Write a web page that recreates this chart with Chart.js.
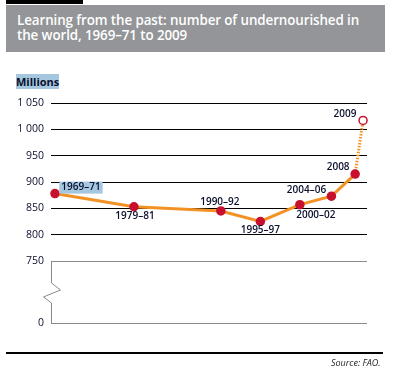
<!DOCTYPE html>
<html><head><meta charset="utf-8">
<script src="https://cdn.jsdelivr.net/npm/chart.js@4/dist/chart.umd.min.js"></script>
<style>
body{margin:0;background:#fff;}
#wrap{position:relative;width:393px;height:380px;overflow:hidden;font-family:'Open Sans',sans-serif;}
#bar{position:absolute;left:6px;top:0;width:77px;height:4px;background:#000;}
#title{position:absolute;left:6px;top:5px;width:379px;height:47px;background:#939598;color:#fff;font-size:13.4px;font-weight:600;line-height:15px;box-sizing:border-box;padding:8px 0 0 11px;white-space:nowrap;letter-spacing:-0.1px;}
#mill{position:absolute;left:16px;top:74px;height:15px;width:43px;background:#a4c6df;font-weight:bold;font-size:11px;line-height:15px;color:#0a0f2c;text-align:center;}
#rule{position:absolute;left:6px;top:352px;width:377px;height:2px;background:#000;}
#src{position:absolute;left:331px;top:356px;font-size:9px;font-style:italic;color:#222;}
canvas{position:absolute;left:0;top:0;}
</style></head>
<body><div id="wrap">
<div id="bar"></div>
<div id="title">Learning from the past: number of undernourished in<br>the world, 1969–71 to 2009</div>
<div id="mill">Millions</div>
<canvas id="c" width="393" height="380"></canvas>
<div id="rule"></div>
<div id="src">Source: FAO.</div>
</div>
<script>
const categories = ['1969–71','1979–81','1990–92','1995–97','2000–02','2004–06','2008','2009'];
const periodMidYears = [1970,1980,1991,1996,2001,2005,2008,2009];
const undernourished = [878,853,845,825,857,873,915,1017];
const yTicks = [0,750,800,850,900,950,1000,1050];

const BREAK = 750, LOW_FRAC = 62/220;
class BrokenScale extends Chart.LinearScale {
  static id = 'broken';
  getPixelForValue(v) {
    if (v === null || v === undefined) return NaN;
    const t = v >= BREAK ? LOW_FRAC + (v - BREAK) / (this.max - BREAK) * (1 - LOW_FRAC) : v / BREAK * LOW_FRAC;
    return this.getPixelForDecimal(t);
  }
}
Chart.register(BrokenScale);

const labelOffsets = [[26,-6],[1,9],[-1,-9],[0,9],[16,11],[-25,-6],[-17,-7],[-18,-6]];
const lastIdx = undernourished.length - 1;

const decor = {
  id: 'decor',
  beforeDatasetsDraw(chart) {
    const ctx = chart.ctx, y = chart.scales.y, x0 = Math.round(chart.chartArea.left) + 0.5;
    const top = y.getPixelForValue(750), bot = y.getPixelForValue(0), h = bot - top;
    ctx.save();
    ctx.strokeStyle = '#8a8a8a'; ctx.lineWidth = 1;
    ctx.beginPath();
    ctx.moveTo(x0, top);
    ctx.lineTo(x0, top + h * 0.355);
    ctx.lineTo(x0 + 9, top + h * 0.468);
    ctx.lineTo(x0 - 8, top + h * 0.58);
    ctx.lineTo(x0, top + h * 0.677);
    ctx.lineTo(x0, bot);
    ctx.stroke();
    ctx.restore();
  },
  afterDatasetsDraw(chart) {
    const ctx = chart.ctx, meta = chart.getDatasetMeta(0);
    ctx.save();
    ctx.font = '600 10px "Open Sans"';
    ctx.textAlign = 'center'; ctx.textBaseline = 'middle';
    meta.data.forEach((pt, i) => {
      const tx = pt.x + labelOffsets[i][0], ty = pt.y + labelOffsets[i][1];
      if (i === 0) {
        const w = ctx.measureText(categories[i]).width;
        ctx.fillStyle = '#a4c6df';
        ctx.fillRect(tx - w / 2 - 2, ty - 6, w + 4, 12);
      }
      ctx.fillStyle = '#0a0f2c';
      ctx.fillText(categories[i], tx, ty);
    });
    ctx.restore();
  }
};

new Chart(document.getElementById('c'), {
  type: 'line',
  data: {
    datasets: [{
      data: periodMidYears.map((x, i) => ({x, y: undernourished[i]})),
      borderColor: '#f39224',
      borderWidth: 3,
      pointRadius: 4,
      pointBorderWidth: 1.5,
      pointBackgroundColor: undernourished.map((v, i) => i === lastIdx ? '#ffffff' : '#c8102e'),
      pointBorderColor: '#c8102e',
      clip: false,
      segment: { borderDash: ctx => ctx.p1DataIndex === lastIdx ? [1.5, 1.5] : undefined }
    }]
  },
  options: {
    responsive: false, animation: false, devicePixelRatio: 1,
    layout: { padding: { left: 0, right: 26, top: 103, bottom: 57 } },
    plugins: { legend: { display: false }, tooltip: { enabled: false } },
    scales: {
      x: { type: 'linear', min: 1969.5, max: 2009.5, display: false },
      y: {
        type: 'broken', min: 0, max: 1050,
        afterBuildTicks: s => { s.ticks = yTicks.map(v => ({ value: v })); },
        afterFit: s => { s.width = 51; },
        border: { display: false },
        grid: { drawTicks: false, lineWidth: 1, color: c => (c.tick && c.tick.value <= 750) ? '#8a8a8a' : '#000000' },
        ticks: {
          padding: 7, color: '#0a0f2c', font: { family: 'Open Sans', size: 10.5, weight: '500' },
          callback: v => v >= 1000 ? Math.floor(v / 1000) + ' ' + String(v % 1000).padStart(3, '0') : String(v)
        }
      }
    }
  },
  plugins: [decor]
});
</script>
</body></html>
